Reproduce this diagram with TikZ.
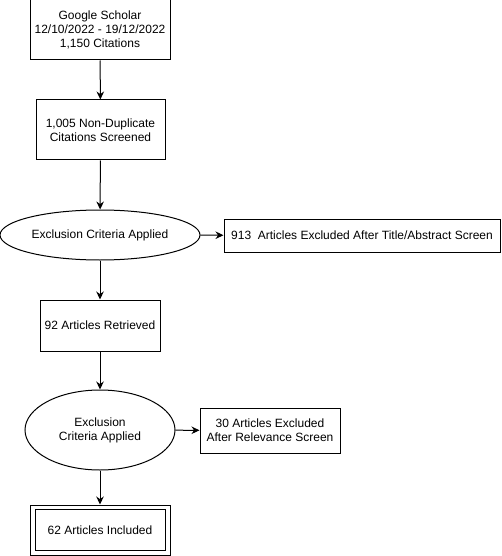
\documentclass[tikz,border=0pt]{standalone}
\usepackage{fontspec}
\setmainfont{Liberation Sans}
\usetikzlibrary{positioning,arrows.meta,shapes.geometric,shapes.multipart}

\begin{document}
\begin{tikzpicture}[
  x=1pt,y=-1pt,
  every node/.style={font=\fontsize{12}{14}\selectfont,line width=1pt},
  block/.style={draw,align=center,inner sep=0pt},
  oval/.style={draw,ellipse,align=center,inner sep=0pt},
  arr/.style={-{Stealth[length=8pt,width=7.5pt]},line width=1pt}
]
\useasboundingbox (0,0) rectangle (501,556);

\node[block,minimum width=140pt,minimum height=60pt] (search) at (100,30) {Google Scholar\\12/10/2022 - 19/12/2022\\1,150 Citations};
\node[block,minimum width=129pt,minimum height=60pt] (screened) at (100.5,130) {1,005 Non-Duplicate\\Citations Screened};
\node[oval,minimum width=200pt,minimum height=50pt] (crit1) at (100,235) {Exclusion Criteria Applied};
\node[block,minimum width=276pt,minimum height=33pt] (excl1) at (362,235.5) {913~ Articles Excluded After Title/Abstract Screen};
\node[block,minimum width=120pt,minimum height=51pt] (retrieved) at (100,325.5) {92 Articles Retrieved};
\node[oval,minimum width=150pt,minimum height=80pt] (crit2) at (100,430) {Exclusion\\Criteria Applied};
\node[block,minimum width=140pt,minimum height=45pt] (excl2) at (270,430.5) {30 Articles Excluded\\After Relevance Screen};
\node[block,minimum width=140pt,minimum height=50pt] (included) at (100,530) {};
\node[block,minimum width=130pt,minimum height=41pt] (incinner) at (100,530) {62 Articles Included};

\draw[arr] (search) -- (screened);
\draw[arr] (screened) -- (crit1);
\draw[arr] (crit1) -- (excl1);
\draw[arr] (crit1) -- (retrieved);
\draw[arr] (retrieved) -- (crit2);
\draw[arr] (crit2) -- (excl2);
\draw[arr] (crit2) -- (included);
\end{tikzpicture}
\end{document}
